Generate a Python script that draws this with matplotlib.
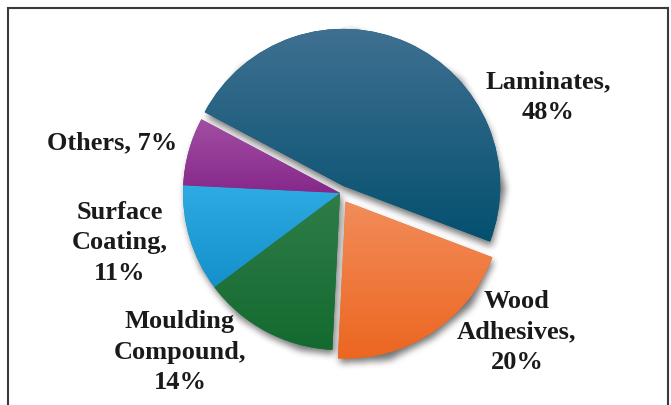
import numpy as np
import matplotlib
matplotlib.use("Agg")
import matplotlib.pyplot as plt
from matplotlib.colors import to_rgb
from matplotlib.patches import Rectangle

# ---- data ----
categories = ["Laminates", "Wood\nAdhesives", "Moulding\nCompound", "Surface\nCoating", "Others"]
shares = [48, 20, 14, 11, 7]

# ---- style ----
label_sep = ["\n", "\n", "\n", "\n", " "]
explode = [0.05, 0.065, 0, 0, 0]
top_colors = ["#3f7091", "#f28c5a", "#2f7d48", "#2eabe2", "#a24ea3"]
bottom_colors = ["#04506f", "#ec6620", "#136a2f", "#1490cb", "#86288b"]
label_pos = [(1.325, 0.611), (1.127, -0.885), (-1.019, -1.013), (-1.401, -0.318), (-1.452, 0.318)]

W, H = 671, 405
R_PX = 157.0
CX, CY = 340.0, 193.0
xlim = (-CX / R_PX, (W - CX) / R_PX)
ylim = (-(H - CY) / R_PX, CY / R_PX)

fig = plt.figure(figsize=(W / 100, H / 100), dpi=100)
ax = fig.add_axes([0, 0, 1, 1])

wedges, _ = ax.pie(shares, explode=explode, startangle=152, counterclock=False,
                   radius=1, colors=bottom_colors, wedgeprops=dict(linewidth=0))

# soft drop shadow from the union of wedges
gx = np.linspace(xlim[0], xlim[1], W)
gy = np.linspace(ylim[1], ylim[0], H)
XX, YY = np.meshgrid(gx, gy)
pts = np.column_stack([XX.ravel(), YY.ravel()])
mask = np.zeros(W * H, dtype=bool)
for w in wedges:
    p = w.get_patch_transform().transform_path(w.get_path())
    mask |= p.contains_points(pts)
mask = mask.reshape(H, W).astype(float)
sh = np.zeros_like(mask)
sh[5:, 2:] = mask[:-5, :-2]
def box_blur(a, r):
    k = np.ones(2 * r + 1) / (2 * r + 1)
    a = np.apply_along_axis(lambda m: np.convolve(m, k, mode="same"), 0, a)
    a = np.apply_along_axis(lambda m: np.convolve(m, k, mode="same"), 1, a)
    return a
for _ in range(3):
    sh = box_blur(sh, 3)
rgba = np.zeros((H, W, 4))
rgba[..., 3] = sh * 0.55
ax.imshow(rgba, extent=[xlim[0], xlim[1], ylim[0], ylim[1]], origin="upper",
          aspect="auto", zorder=0.5, interpolation="bilinear")

# vertical gradient fill on each wedge
for w, ct, cb in zip(wedges, top_colors, bottom_colors):
    w.set_zorder(1)
    p = w.get_patch_transform().transform_path(w.get_path())
    ext = p.get_extents()
    t = np.linspace(0, 1, 256)[:, None]
    c0 = np.array(to_rgb(ct)); c1 = np.array(to_rgb(cb))
    grad = (c0[None, :] * (1 - t) + c1[None, :] * t)[:, None, :]
    im = ax.imshow(grad, extent=[ext.x0, ext.x1, ext.y0, ext.y1], origin="upper",
                   aspect="auto", zorder=1.1, interpolation="bilinear")
    im.set_clip_path(w)

for cat, v, sep, (lx, ly) in zip(categories, shares, label_sep, label_pos):
    ax.text(lx, ly, f"{cat},{sep}{v}%", ha="center", va="center",
            fontfamily="Liberation Serif", fontweight="bold", fontsize=19,
            linespacing=1.4, color="#1a1a1a", zorder=3)

ax.set_xlim(*xlim)
ax.set_ylim(*ylim)
ax.set_aspect("auto")
ax.axis("off")

# outer frame
fig.patches.append(Rectangle((8 / W, -0.05), 660 / W, 1.05 - 8 / H, transform=fig.transFigure,
                             fill=False, edgecolor="#3a3a3a", linewidth=1.5))

fig.savefig("out.png", dpi=100)
